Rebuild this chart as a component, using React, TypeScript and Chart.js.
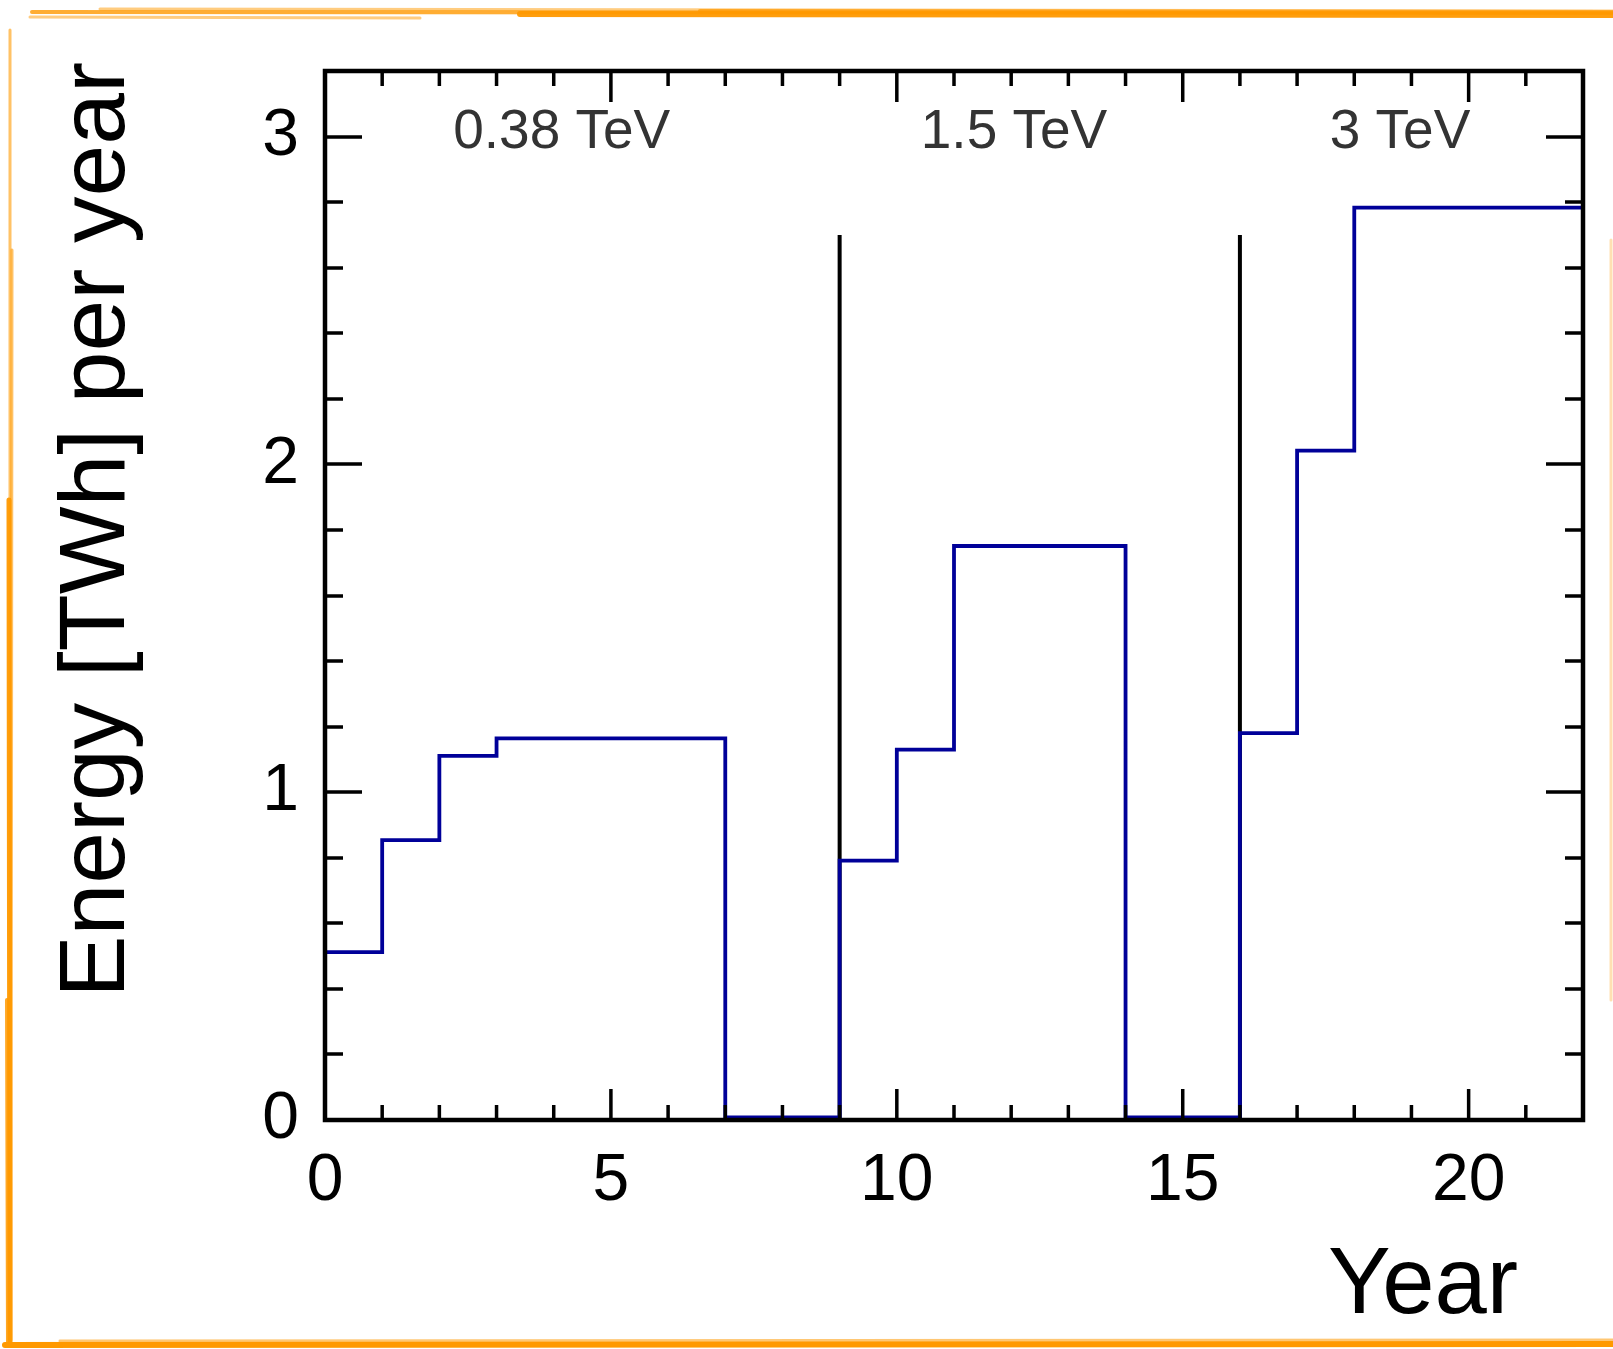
import { useEffect, useRef } from "react";
import { Chart, registerables } from "chart.js";

Chart.register(...registerables);

// Yearly energy consumption, one bin per year
const binEdges = [0, 1, 2, 3, 4, 5, 6, 7, 8, 9, 10, 11, 12, 13, 14, 15, 16, 17, 18, 19, 20, 21, 22];
const energyPerYear = [
  0.512, 0.854, 1.111, 1.164, 1.164, 1.164, 1.164, 0.008, 0.008,
  0.791, 1.13, 1.751, 1.751, 1.751, 0.008, 0.008,
  1.18, 2.042, 2.783, 2.783, 2.783, 2.783,
];

// Energy stage boundaries and their labels
const stageStartYears = [9, 16];
const stageLineTop = 2.7;
const stageLabels = ["0.38 TeV", "1.5 TeV", "3 TeV"];
const stageLabelYears = [4.14, 12.05, 18.8];
const stageLabelLevel = 3.012;

// Axis ticks
const xMajorTicks = [0, 5, 10, 15, 20];
const xMinorStep = 1;
const yMajorTicks = [0, 1, 2, 3];
const yMinorStep = 0.2;

const X_MIN = 0;
const X_MAX = 22;
const Y_MIN = 0;
const Y_MAX = 3.2;

const W = 1613;
const H = 1349;
const FONT = "'Liberation Sans', Arial, Helvetica, sans-serif";

const ORANGE = "255,153,0";

function drawSketchFrame(ctx: CanvasRenderingContext2D) {
  const strokes: [number, number, number, number, number, number][] = [
    // x1, y1, x2, y2, width, alpha
    [32, 12, 1613, 13, 4, 0.8],
    [100, 9, 1613, 11, 3, 0.5],
    [520, 14, 1613, 15, 6, 0.95],
    [30, 17, 420, 18, 3, 0.5],
    [700, 11, 1613, 12, 4, 0.7],
    [10, 30, 10, 1344, 3, 0.6],
    [9, 500, 10, 1344, 5, 0.95],
    [12, 250, 11, 1340, 3, 0.6],
    [7, 1000, 8, 1344, 4, 0.85],
    [5, 1345, 1613, 1344, 6, 1],
    [60, 1341, 1613, 1340, 3, 0.55],
    [1611, 240, 1611, 1000, 3, 0.3],
  ];
  ctx.save();
  ctx.lineCap = "round";
  for (const [x1, y1, x2, y2, w, a] of strokes) {
    ctx.strokeStyle = `rgba(${ORANGE},${a})`;
    ctx.lineWidth = w;
    ctx.beginPath();
    ctx.moveTo(x1, y1);
    ctx.lineTo(x2, y2);
    ctx.stroke();
  }
  ctx.restore();
}

const framePlugin = {
  id: "rootFrame",
  beforeDraw(chart: any) {
    const ctx: CanvasRenderingContext2D = chart.ctx;
    ctx.save();
    ctx.fillStyle = "#ffffff";
    ctx.fillRect(0, 0, chart.width, chart.height);
    ctx.restore();
    drawSketchFrame(ctx);
  },
  afterDatasetsDraw(chart: any) {
    const ctx: CanvasRenderingContext2D = chart.ctx;
    const { left, right, top, bottom } = chart.chartArea;
    const xs = chart.scales.x;
    const ys = chart.scales.y;
    ctx.save();
    ctx.strokeStyle = "#000";
    ctx.lineCap = "butt";

    // inward ticks on all four sides
    ctx.lineWidth = 3.5;
    ctx.beginPath();
    const nx = Math.round((X_MAX - X_MIN) / xMinorStep);
    for (let i = 0; i <= nx; i++) {
      const v = X_MIN + i * xMinorStep;
      const isMajor = xMajorTicks.includes(v);
      const len = isMajor ? 31 : 15;
      const px = xs.getPixelForValue(v);
      ctx.moveTo(px, bottom);
      ctx.lineTo(px, bottom - len);
      ctx.moveTo(px, top);
      ctx.lineTo(px, top + len);
    }
    const ny = Math.round((Y_MAX - Y_MIN) / yMinorStep);
    for (let i = 0; i <= ny; i++) {
      const v = Y_MIN + i * yMinorStep;
      const isMajor = yMajorTicks.some((t) => Math.abs(t - v) < 1e-6);
      const len = isMajor ? 37 : 18;
      const py = Math.round(ys.getPixelForValue(v));
      ctx.moveTo(left, py);
      ctx.lineTo(left + len, py);
      ctx.moveTo(right, py);
      ctx.lineTo(right - len, py);
    }
    ctx.stroke();

    // plot frame
    ctx.lineWidth = 4.5;
    ctx.strokeRect(left, top, right - left, bottom - top);

    // stage labels
    ctx.fillStyle = "#333333";
    ctx.font = `55px ${FONT}`;
    ctx.textAlign = "center";
    ctx.textBaseline = "middle";
    stageLabels.forEach((label, i) => {
      ctx.fillText(label, xs.getPixelForValue(stageLabelYears[i]), ys.getPixelForValue(stageLabelLevel));
    });

    // axis titles
    ctx.fillStyle = "#000";
    ctx.font = `94px ${FONT}`;
    ctx.textAlign = "right";
    ctx.textBaseline = "alphabetic";
    ctx.fillText("Year", 1518, 1313);

    ctx.translate(124, 62);
    ctx.rotate(-Math.PI / 2);
    ctx.font = `93px ${FONT}`;
    ctx.fillText("Energy [TWh] per year", 0, 0);
    ctx.restore();
  },
};

export default function App() {
  const canvasRef = useRef<HTMLCanvasElement | null>(null);

  useEffect(() => {
    const canvas = canvasRef.current;
    if (!canvas) return;

    // step histogram: each bin value holds from its lower edge to the next edge
    const histogram = [
      { x: binEdges[0], y: 0 },
      { x: binEdges[0], y: energyPerYear[0] },
      ...energyPerYear.map((v, i) => ({ x: binEdges[i + 1], y: v })),
    ];

    const stageLines = stageStartYears.map((yr) => ({
      type: "line" as const,
      data: [
        { x: yr, y: 0 },
        { x: yr, y: stageLineTop },
      ],
      borderColor: "#000000",
      borderWidth: 4,
      pointRadius: 0,
      fill: false,
      tension: 0,
    }));

    const chart = new Chart(canvas, {
      type: "line",
      data: {
        datasets: [
          {
            data: histogram,
            stepped: "after",
            borderColor: "#000099",
            borderWidth: 3.8,
            pointRadius: 0,
            fill: false,
          },
          ...stageLines,
        ],
      },
      options: {
        responsive: false,
        animation: false,
        devicePixelRatio: 1,
        layout: { padding: { left: 0, top: 71, right: 30, bottom: 0 } },
        plugins: {
          legend: { display: false },
          tooltip: { enabled: false },
        },
        scales: {
          x: {
            type: "linear",
            min: X_MIN,
            max: X_MAX,
            grid: { display: false, drawTicks: false },
            border: { display: false },
            afterBuildTicks: (scale: any) => {
              scale.ticks = xMajorTicks.map((v) => ({ value: v }));
            },
            afterFit: (scale: any) => {
              scale.height = H - 1120;
            },
            ticks: {
              autoSkip: false,
              maxRotation: 0,
              color: "#000",
              padding: 29,
              font: { family: FONT, size: 66, lineHeight: 1 },
            },
          },
          y: {
            type: "linear",
            min: Y_MIN,
            max: Y_MAX,
            grid: { display: false, drawTicks: false },
            border: { display: false },
            afterBuildTicks: (scale: any) => {
              scale.ticks = yMajorTicks.map((v) => ({ value: v }));
            },
            afterFit: (scale: any) => {
              scale.width = 325;
            },
            ticks: {
              autoSkip: false,
              color: "#000",
              padding: 26,
              font: { family: FONT, size: 66, lineHeight: 1 },
            },
          },
        },
      },
      plugins: [framePlugin],
    } as any);

    return () => chart.destroy();
  }, []);

  return (
    <div style={{ position: "fixed", left: 0, top: 0, width: W, height: H, background: "#fff" }}>
      <canvas ref={canvasRef} width={W} height={H} style={{ display: "block" }} />
    </div>
  );
}
